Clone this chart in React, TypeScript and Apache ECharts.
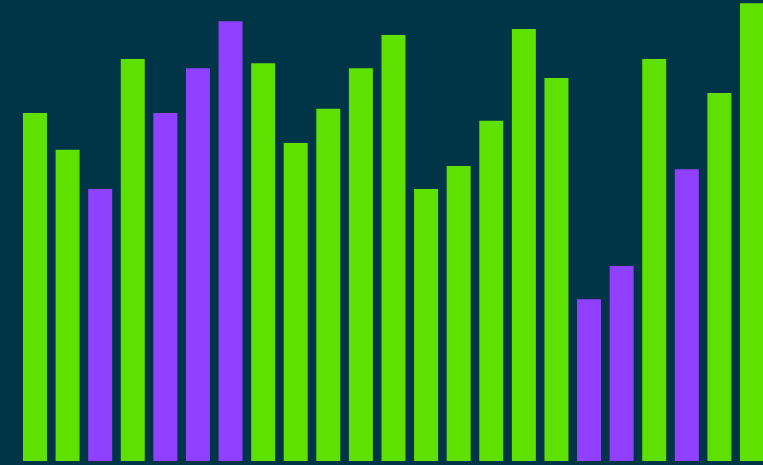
import React, { useEffect, useRef } from "react";
import * as echarts from "echarts";

// One entry per bar
const categories: string[] = Array.from({ length: 23 }, (_, i) => `#${i + 1}`);
const values: number[] = [
  75.5, 67.5, 59, 87.2, 75.5, 85.2, 95.4, 86.3, 69, 76.4, 85.2, 92.4,
  59, 64, 73.8, 93.7, 83.1, 35.1, 42.3, 87.2, 63.3, 79.8, 99.3,
];
// Bars drawn in the accent colour
const accented: boolean[] = [
  false, false, true, false, true, true, true, false, false, false, false, false,
  false, false, false, false, false, true, true, false, true, false, false,
];

const BG = "#003547";
const GREEN = "#5ee000";
const PURPLE = "#9040ff";

export default function App() {
  const ref = useRef<HTMLDivElement>(null);

  useEffect(() => {
    if (!ref.current) return;
    const chart = echarts.init(ref.current, undefined, { renderer: "svg" });
    chart.setOption({
      animation: false,
      backgroundColor: BG,
      grid: { left: 18.7, right: 1.7, top: 0, bottom: 4, containLabel: false },
      xAxis: {
        type: "category",
        data: categories,
        show: false,
      },
      yAxis: {
        type: "value",
        min: 0,
        max: 100,
        show: false,
        splitLine: { show: false },
      },
      series: [
        {
          type: "bar",
          barWidth: 24,
          data: values.map((v, i) => ({
            value: v,
            itemStyle: { color: accented[i] ? PURPLE : GREEN },
          })),
        },
      ],
    });
    return () => chart.dispose();
  }, []);

  return (
    <div
      style={{
        position: "fixed",
        left: 0,
        top: 0,
        width: 763,
        height: 465,
        overflow: "hidden",
        background: BG,
      }}
    >
      <div ref={ref} style={{ width: 770, height: 465 }} />
    </div>
  );
}
